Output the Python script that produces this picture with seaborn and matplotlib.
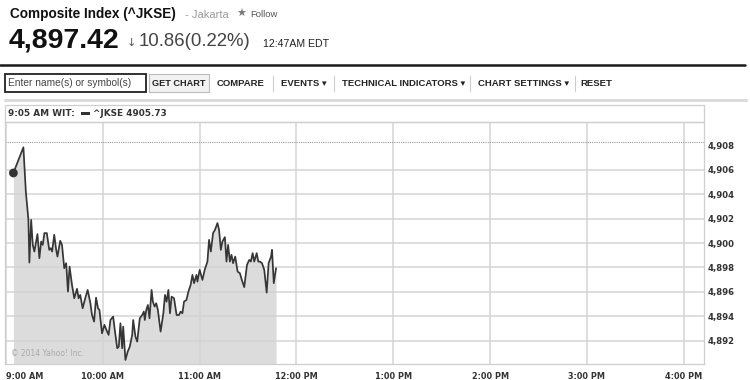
import matplotlib
matplotlib.use("Agg")
import matplotlib.pyplot as plt
import seaborn as sns
import pandas as pd
from matplotlib.patches import Rectangle
from matplotlib.lines import Line2D

# ---- data (minutes after 9:00 AM WIT, index value) ----
minutes = [4.7, 10.9, 12.4, 14.0, 14.6, 15.7, 16.7, 17.7, 19.6, 20.8, 21.9, 22.9, 23.9, 25.4,
           26.9, 27.9, 28.7, 30.0, 31.2, 32.0, 33.7, 34.8, 36.2, 37.4, 38.5, 39.5, 41.0, 42.4,
           44.1, 45.1, 46.1, 47.6, 49.2, 50.7, 52.4, 53.4, 54.7, 55.9, 57.1, 58.0, 59.6, 61.1,
           62.3, 63.7, 64.8, 66.5, 67.5, 69.0, 70.0, 71.0, 72.1, 72.7, 74.1, 75.5, 76.8, 78.3,
           78.9, 80.3, 81.4, 83.0, 84.5, 85.5, 86.1, 87.0, 88.0, 89.0, 90.3, 91.1, 92.2, 93.2,
           94.2, 95.9, 97.6, 98.6, 99.6, 100.7, 101.7, 102.7, 104.2, 105.8, 107.3, 108.3, 109.4,
           110.4, 111.9, 113.1, 114.5, 115.6, 116.6, 118.1, 118.7, 120.1, 121.8, 123.2, 124.9,
           125.9, 127.0, 128.4, 129.6, 131.1, 132.1, 133.2, 134.2, 135.7, 136.7, 137.7, 138.8,
           139.8, 140.8, 142.1, 143.6, 145.0, 146.2, 147.7, 149.4, 150.8, 151.8, 152.9, 153.9,
           155.4, 156.4, 157.4, 158.7, 160.1, 161.6, 162.8, 164.3, 164.9, 166.0, 167.4]
values = [4905.73, 4907.83, 4904.22, 4901.90, 4898.40, 4901.90, 4899.85, 4899.30, 4900.73,
          4898.76, 4900.12, 4899.85, 4900.81, 4900.81, 4899.44, 4899.58, 4899.30, 4900.67,
          4899.44, 4898.89, 4900.18, 4899.85, 4897.94, 4898.35, 4896.02, 4898.07, 4896.57,
          4895.48, 4896.25, 4895.48, 4895.75, 4894.66, 4895.48, 4896.16, 4895.07, 4894.11,
          4893.57, 4895.53, 4894.66, 4894.52, 4892.61, 4893.30, 4892.89, 4892.48, 4893.70,
          4893.98, 4892.89, 4891.39, 4891.52, 4893.43, 4891.39, 4893.16, 4890.43, 4891.11,
          4891.52, 4892.48, 4893.70, 4892.34, 4891.93, 4893.84, 4894.11, 4894.39, 4893.70,
          4894.52, 4894.93, 4893.84, 4896.16, 4895.20, 4894.80, 4895.07, 4894.52, 4892.75,
          4894.25, 4895.75, 4895.20, 4896.16, 4894.25, 4895.61, 4895.48, 4894.11, 4894.11,
          4894.39, 4894.25, 4895.20, 4895.34, 4896.02, 4896.57, 4897.39, 4896.71, 4897.39,
          4896.84, 4897.80, 4896.98, 4897.80, 4898.48, 4900.26, 4899.30, 4900.81, 4901.08,
          4901.63, 4901.08, 4899.44, 4900.12, 4900.48, 4898.48, 4899.85, 4898.48, 4899.03,
          4898.35, 4898.89, 4897.66, 4897.53, 4896.98, 4896.39, 4898.21, 4898.62, 4898.48,
          4899.17, 4898.48, 4899.17, 4898.48, 4898.48, 4898.35, 4897.80, 4895.94, 4898.35,
          4898.89, 4899.44, 4896.71, 4897.94]
prev_close = 4908.28
hour_ticks = [0, 60, 120, 180, 240, 300, 360, 420]
hour_labels = ["9:00 AM", "10:00 AM", "11:00 AM", "12:00 PM", "1:00 PM", "2:00 PM", "3:00 PM", "4:00 PM"]
price_ticks = [4892, 4894, 4896, 4898, 4900, 4902, 4904, 4906, 4908]
price_labels = ["4,892", "4,894", "4,896", "4,898", "4,900", "4,902", "4,904", "4,906", "4,908"]

title = "Composite Index (^JKSE)"
exchange = "- Jakarta"
last_price = "4,897.42"
change_text = "10.86(0.22%)"
time_text = "12:47AM EDT"
legend_time = "9:05 AM WIT:"
legend_series = "^JKSE 4905.73"
toolbar_items = ["COMPARE", "EVENTS \u25be", "TECHNICAL INDICATORS \u25be", "CHART SETTINGS \u25be", "RESET"]

sns.set_style("white")
plt.rcParams['font.family'] = ['Liberation Sans', 'DejaVu Sans']

W, H = 750, 380
fig = plt.figure(figsize=(W / 100, H / 100), dpi=100)


def fx(x):
    return x / W


def fy(y):
    return 1 - y / H


# ---- header texts ----
fig.text(fx(10), fy(14), title, fontsize=9.8, fontweight='bold', color='#111', va='center', ha='left')
fig.text(fx(185), fy(14.5), exchange, fontsize=8, color='#999', va='center', ha='left')
fig.text(fx(236), fy(14), "\u2605", fontsize=8, color='#777', va='center', ha='left',
         family=['DejaVu Sans'])
fig.text(fx(250), fy(14.5), "Follow", fontsize=6.8, color='#555', va='center', ha='left')
fig.text(fx(9), fy(41), last_price, fontsize=20.5, fontweight='bold', color='#111', va='center', ha='left')
fig.text(fx(127), fy(43), "\u2193", fontsize=8, color='#555', va='center', ha='left',
         family=['DejaVu Sans'])
fig.text(fx(139), fy(42), change_text, fontsize=13.4, color='#444', va='center', ha='left')
fig.text(fx(263), fy(44), time_text, fontsize=7.6, color='#222', va='center', ha='left')

# dark line and toolbar
fig.add_artist(Line2D([fx(0), fx(745)], [fy(65), fy(65)], color='#1a1a1a', lw=1.8))
fig.add_artist(Rectangle((fx(5), fy(92)), fx(146) - fx(5), fy(74) - fy(92), fill=False,
                         edgecolor='#222', lw=1.3))
fig.text(fx(8), fy(83), "Enter name(s) or symbol(s)", fontsize=7.3, color='#444', va='center', ha='left')
fig.add_artist(Rectangle((fx(149), fy(92)), fx(209) - fx(149), fy(74) - fy(92), facecolor='#f2f2f2',
                         edgecolor='#bbb', lw=0.8))
fig.text(fx(179), fy(83), "GET CHART", fontsize=6.6, fontweight='bold', color='#222', va='center', ha='center')
item_x = [217, 281, 342, 478, 580]
sep_x = [273, 334, 470, 575]
for label, x in zip(toolbar_items, item_x):
    fig.text(fx(x), fy(83), label, fontsize=6.8, fontweight='bold', color='#222', va='center', ha='left',
             family=['Liberation Sans', 'DejaVu Sans'])
for x in sep_x:
    fig.add_artist(Line2D([fx(x), fx(x)], [fy(76), fy(91)], color='#ccc', lw=0.8))
fig.add_artist(Line2D([fx(5), fx(746)], [fy(100), fy(100)], color='#dcdcdc', lw=2.2))

# chart header strip
fig.add_artist(Rectangle((fx(5), fy(122)), fx(704) - fx(5), fy(105) - fy(122), fill=False,
                         edgecolor='#cfcfcf', lw=0.9))
fig.text(fx(8), fy(113.5), legend_time, fontsize=6.4, fontweight='bold', color='#333', va='center',
         ha='left', family=['DejaVu Sans'])
fig.add_artist(Rectangle((fx(81), fy(115)), fx(90) - fx(81), fy(112) - fy(115), facecolor='#333',
                         edgecolor='none'))
fig.text(fx(93), fy(113.5), legend_series, fontsize=6.4, fontweight='bold', color='#333', va='center',
         ha='left', family=['DejaVu Sans'])

# ---- main chart ----
ax = fig.add_axes([fx(5), fy(364), fx(704) - fx(5), fy(122) - fy(364)])
df = pd.DataFrame({"minute": minutes, "value": values})
ax.fill_between(df["minute"], df["value"], 4880, color='#dcdcdc', lw=0, zorder=0.3)
sns.lineplot(data=df, x="minute", y="value", ax=ax, color='#363636', lw=1.25, zorder=3)
sns.scatterplot(x=[minutes[0]], y=[values[0]], ax=ax, color='#333', s=40, zorder=4, edgecolor='none')
ax.axhline(prev_close, color='#999', ls=(0, (1, 1)), lw=0.8, zorder=2)

ax.set_xlim(-0.5, 432.5)
ax.set_ylim(4890.1, 4909.9)
ax.set_xticks(hour_ticks)
ax.set_xticklabels(hour_labels)
ax.set_yticks(price_ticks)
ax.set_yticklabels(price_labels)
ax.yaxis.tick_right()
ax.set_xlabel("")
ax.set_ylabel("")
ax.set_axisbelow(True)
ax.grid(True, color='#d4d4d4', lw=1.1)
ax.get_ygridlines()[-1].set_visible(False)
ax.tick_params(axis='both', length=0, labelcolor='#333')
ax.tick_params(axis='x', pad=5.5, labelsize=5.9)
ax.tick_params(axis='y', pad=2.5, labelsize=6.1)
for lab in ax.get_xticklabels() + ax.get_yticklabels():
    lab.set_fontfamily('DejaVu Sans')
    lab.set_fontweight('bold')
ax.get_xticklabels()[0].set_ha('left')
for s in ax.spines.values():
    s.set_color('#cfcfcf')
    s.set_linewidth(0.9)

ax.text(0.008, 0.025, "\u00a9 2014 Yahoo! Inc.", transform=ax.transAxes, fontsize=5.5, color='#aaa',
        ha='left', va='bottom', family=['DejaVu Sans'])

fig.savefig("out.png", dpi=100)
